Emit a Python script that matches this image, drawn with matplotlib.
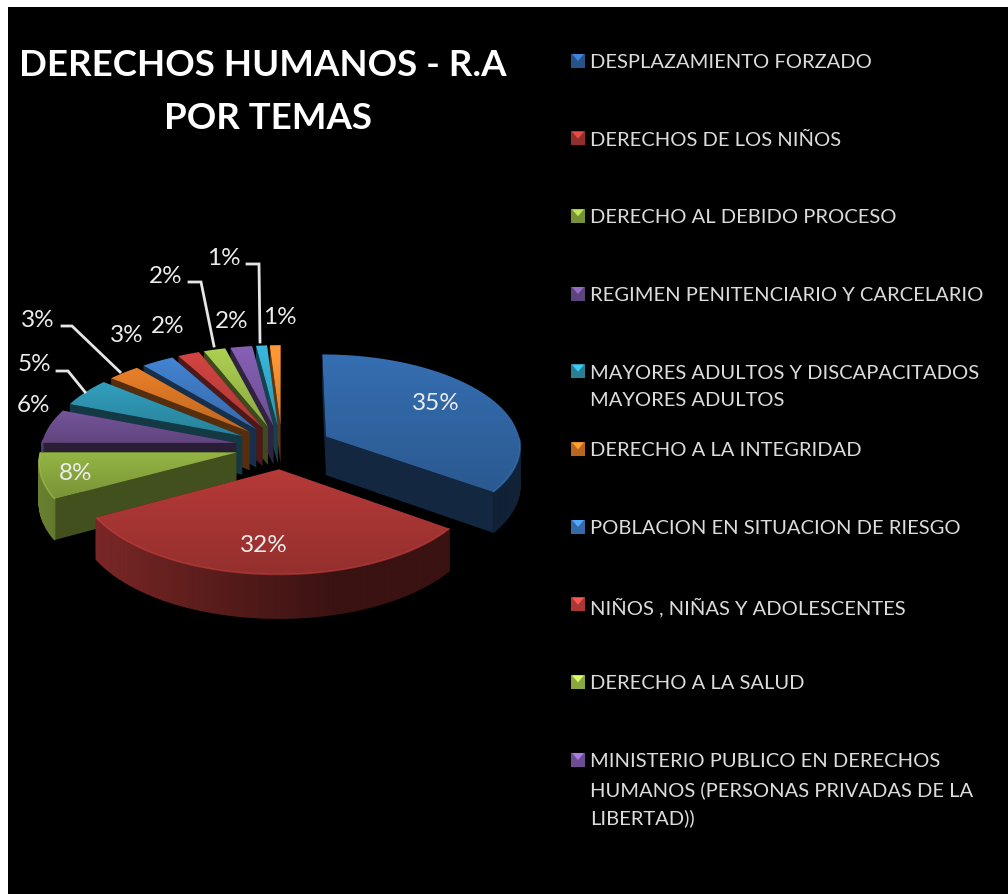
import numpy as np
import matplotlib
matplotlib.use("Agg")
import matplotlib.pyplot as plt
from matplotlib.colors import to_rgb
from matplotlib.patches import Polygon, Rectangle

plt.rcParams["font.family"] = ["Lato", "DejaVu Sans"]

# --- data ---
VALUES = [35, 32, 8, 6, 5, 3, 3, 2, 2, 2, 1, 1]
LEGEND_LABELS = [
    "DESPLAZAMIENTO FORZADO",
    "DERECHOS DE LOS NIÑOS",
    "DERECHO AL DEBIDO PROCESO",
    "REGIMEN PENITENCIARIO Y CARCELARIO",
    "MAYORES ADULTOS Y DISCAPACITADOS\nMAYORES ADULTOS",
    "DERECHO A LA INTEGRIDAD",
    "POBLACION EN SITUACION DE RIESGO",
    "NIÑOS , NIÑAS Y ADOLESCENTES",
    "DERECHO A LA SALUD",
    "MINISTERIO PUBLICO EN DERECHOS\nHUMANOS (PERSONAS PRIVADAS DE LA\nLIBERTAD))",
]
TITLE_LINES = ["DERECHOS HUMANOS - R.A", "POR TEMAS"]

# --- styling ---
COLORS = ["#3268a8", "#ac3735", "#8cab40", "#6f5092", "#2f96b2", "#dc7826",
          "#3f7cc6", "#c8413e", "#a2c44c", "#7f5bab", "#36aed0", "#f79232"]
LEGEND_COLORS = ["#2f62a0", "#ac3735", "#8cab40", "#6f5092", "#2f96b2", "#dc7826",
                 "#3f7cc6", "#c8413e", "#a2c44c", "#7f5bab"]
LABEL_POS = [(436, 404), (264, 546), (76, 473), (34, 406), (34, 364), (38, 320),
             (127, 335), (168, 326), (166, 276), (232, 321), (224, 258), (280, 317)]
TITLE_POS = [(263, 65), (268, 118)]
LEADERS = {
    4: [(57, 372), (68, 372), (85, 393)],
    5: [(62, 327), (72, 327), (120, 373)],
    8: [(189, 283), (201, 283), (214, 347)],
    10: [(247, 265), (259, 265), (260, 343)],
}

# pie geometry in pixels, with a mild perspective
CX, CY, RX, RY, PERSP, DEPTH = 282, 448, 195, 91.3, 0.09, 39
EXPLODE = [0.255] + [0.24] * 11


def project(x, y):
    w = 1 + PERSP * y
    return CX + RX * x / w, CY - RY * y / w, DEPTH / w


def shade(color, f):
    return tuple(min(1, c * f) for c in to_rgb(color))


fig = plt.figure(figsize=(10.08, 8.95), dpi=100, facecolor="white")
ax = fig.add_axes([0, 0, 1, 1])
ax.axis("off")
ax.add_patch(Rectangle((8, 8), 1000, 887, facecolor="black", edgecolor="none", zorder=0))

fractions = np.array(VALUES) / sum(VALUES)
ends = np.cumsum(fractions) * 360
starts = ends - fractions * 360
mids = (starts + ends) / 2

# back slices first, so the ones in front paint over them
order = np.argsort(-np.cos(np.radians(mids)))
z = 1
for i in order:
    mid = np.radians(mids[i])
    ox, oy = EXPLODE[i] * np.sin(mid), EXPLODE[i] * np.cos(mid)
    th = np.radians(np.linspace(starts[i], ends[i], max(4, int(ends[i] - starts[i]) + 2)))
    arc_x, arc_y, arc_d = project(ox + np.sin(th), oy + np.cos(th))
    tx, ty, td = project(ox, oy)
    color = COLORS[i]

    # two cut faces
    for k in (0, -1):
        wall = [(tx, ty), (arc_x[k], arc_y[k]), (arc_x[k], arc_y[k] + arc_d[k]), (tx, ty + td)]
        f = 0.47 if i == 2 else 0.38
        ax.add_patch(Polygon(wall, facecolor=shade(color, f), edgecolor="none", zorder=z))
        z += 1

    # outer wall, lit from the left; the part facing away is not drawn
    for k in range(len(th) - 1):
        tm = (th[k] + th[k + 1]) / 2
        if np.cos(tm) > 0.03:
            continue
        f = max(0.33, 0.42 - 0.33 * np.sin(tm))
        quad = [(arc_x[k], arc_y[k]), (arc_x[k + 1], arc_y[k + 1]),
                (arc_x[k + 1], arc_y[k + 1] + arc_d[k + 1]), (arc_x[k], arc_y[k] + arc_d[k])]
        ax.add_patch(Polygon(quad, facecolor=shade(color, f), edgecolor=shade(color, f),
                             linewidth=0.9, zorder=z))
    z += 1

    # top face with a vertical gradient
    top = Polygon(np.column_stack([np.r_[tx, arc_x], np.r_[ty, arc_y]]), closed=True,
                  facecolor="none", edgecolor="none", zorder=z)
    ax.add_patch(top)
    grad = np.linspace(1.06, 0.86, 64)
    img = np.array([[shade(color, g)] for g in grad])
    xs, ys = np.r_[tx, arc_x], np.r_[ty, arc_y]
    im = ax.imshow(img, extent=(xs.min(), xs.max(), ys.max(), ys.min()), aspect="auto",
                   interpolation="bilinear", zorder=z)
    im.set_clip_path(top)
    z += 1

    # bevel along the front of the rim
    front = np.cos(th) < 0
    if front.sum() > 1:
        ax.plot(arc_x[front], arc_y[front], color=shade(color, 1.15), lw=1.2, alpha=0.6,
                zorder=z, solid_capstyle="butt")
    z += 1

zt = z + 1
for i, v in enumerate(VALUES):
    ax.text(*LABEL_POS[i], f"{v}%", color="#ececec", fontsize=17.5, ha="center",
            va="center", zorder=zt)
for pts in LEADERS.values():
    xs, ys = zip(*pts)
    ax.plot(xs, ys, color="#e6e6e6", lw=2, zorder=zt, solid_joinstyle="miter")

for line, pos in zip(TITLE_LINES, TITLE_POS):
    ax.text(*pos, line, color="white", fontsize=26.4, fontweight="bold", ha="center",
            va="center", zorder=zt)

for i, label in enumerate(LEGEND_LABELS):
    y = 61 + i * 77.67
    c = LEGEND_COLORS[i]
    ax.add_patch(Rectangle((571, y - 6.5), 14, 14, facecolor=shade(c, 0.85), edgecolor="none", zorder=zt))
    ax.add_patch(Polygon([(572, y - 6), (584, y - 6), (578, y + 1)], facecolor=shade(c, 1.35),
                         edgecolor="none", zorder=zt))
    ax.text(590, y - 7, label, color="#dcdcdc", fontsize=14.5, ha="left", va="top",
            linespacing=1.72, zorder=zt)

ax.set_xlim(0, 1008)
ax.set_ylim(895, 0)
fig.savefig("out.png", dpi=100, facecolor="white")
